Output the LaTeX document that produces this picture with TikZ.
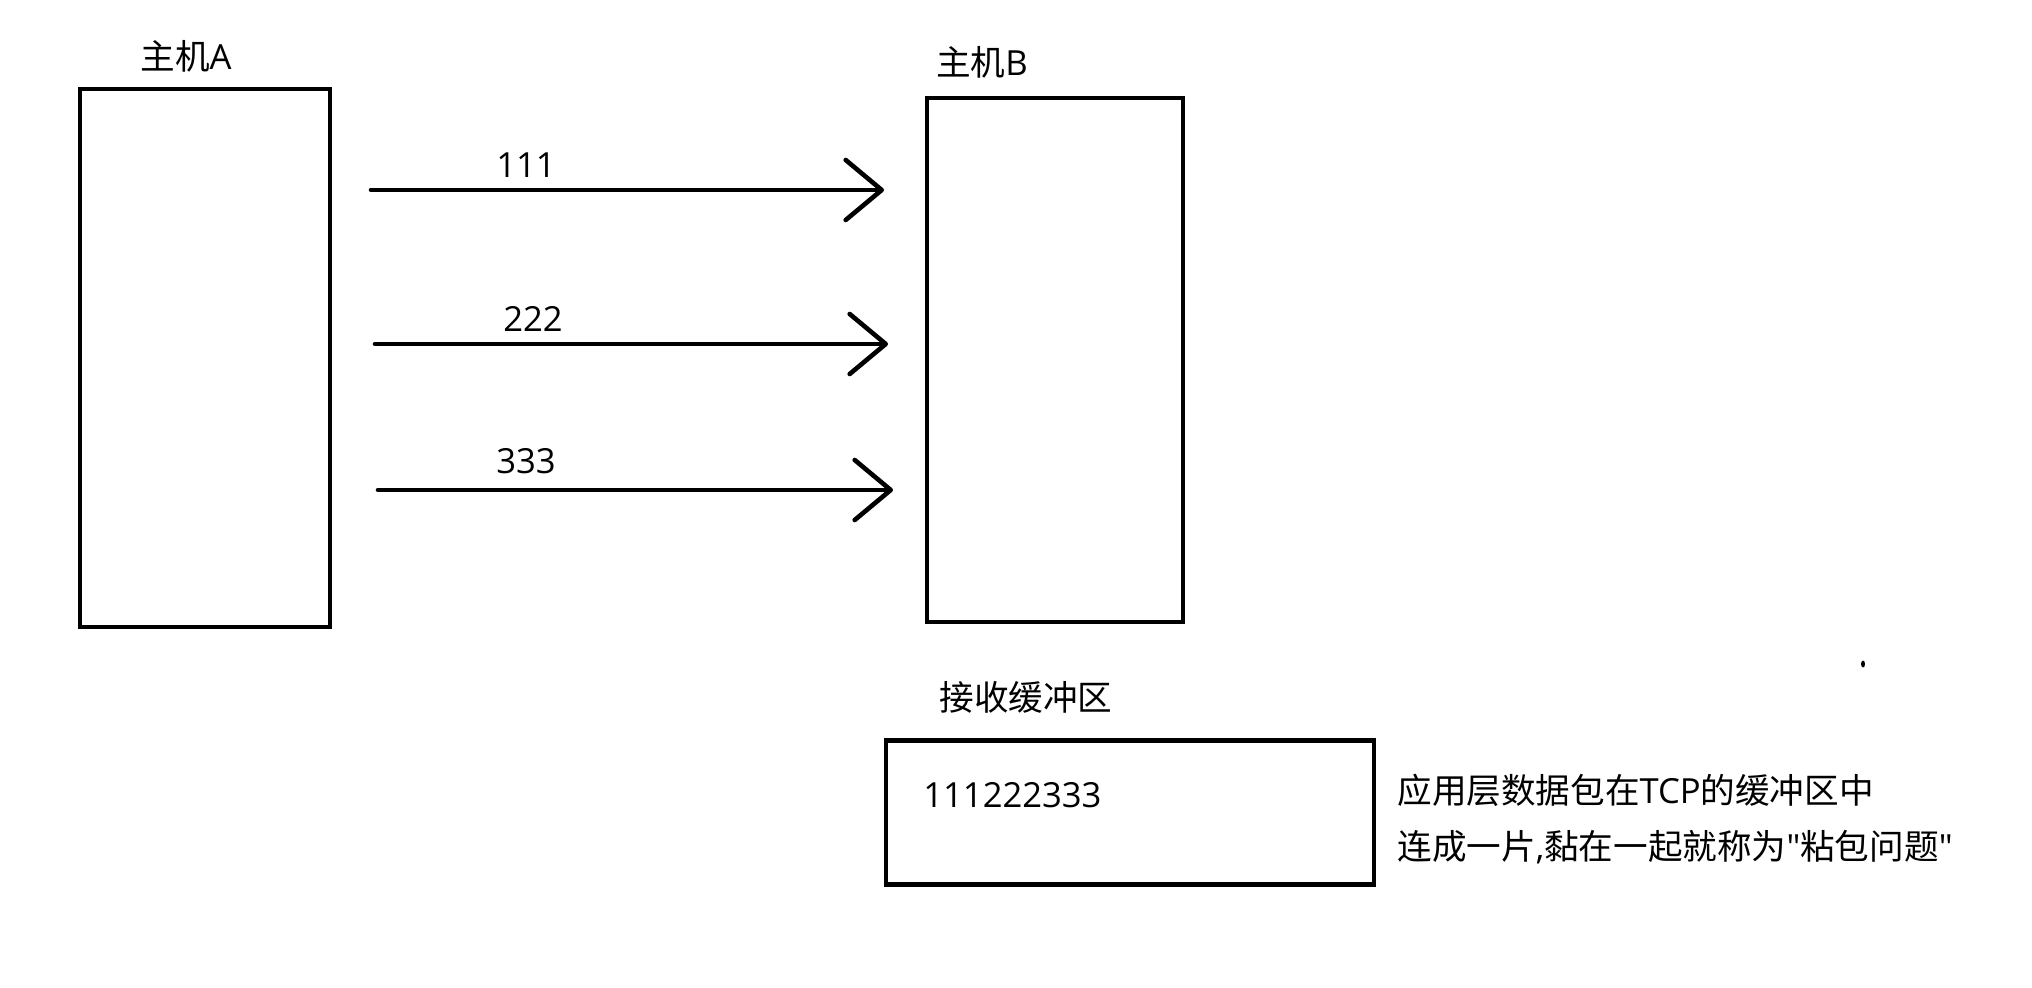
\documentclass[tikz,border=0pt]{standalone}
\usepackage{fontspec}
\setmainfont{Open Sans}[Ligatures=TeXOff]
\newfontfamily\cjk{Noto Sans CJK SC}[Ligatures=TeXOff]
\usetikzlibrary{arrows.meta}
\begin{document}
\begin{tikzpicture}[x=0.5pt,y=-0.5pt,
  host/.style={draw, line width=2.3pt, inner sep=0pt, minimum width=#1},
  lbl/.style={inner sep=0pt, font=\fontsize{17.3}{20}\selectfont},
  msg/.style={line width=2.3pt, line cap=round, -{Straight Barb[length=18pt,width=30pt,line cap=round,round]}}
]
\useasboundingbox (0,0) rectangle (2032,988);
% hosts
\node[host=125pt, minimum height=269pt] (A) at (205,358) {};
\node[host=128pt, minimum height=262pt] (B) at (1055,360) {};
\node[lbl] (tA) at (186,56) {{\cjk 主机}A};
\node[lbl] (tB) at (982,62) {{\cjk 主机}B};
% messages
\coordinate (s1) at (371,190); \coordinate (e1) at (884,190);
\coordinate (s2) at (375,344); \coordinate (e2) at (888,344);
\coordinate (s3) at (378,490); \coordinate (e3) at (893,490);
\draw[msg] (s1) -- (e1);
\draw[msg] (s2) -- (e2);
\draw[msg] (s3) -- (e3);
\node[lbl] (m1) at (526,165) {111};
\node[lbl] (m2) at (533,319) {222};
\node[lbl] (m3) at (526,461) {333};
% buffer
\node[lbl] (tbuf) at (1026,697) {\cjk 接收缓冲区};
\node[host=244pt, minimum height=72pt] (buf) at (1130,812.5) {};
\node[lbl, anchor=west] (data) at (923,795) {111222333};
\node[lbl, anchor=west] (n1) at (1397,790) {{\cjk 应用层数据包在}TCP{\cjk 的缓冲区中}};
\node[lbl, anchor=west] (n2) at (1397,847) {{\cjk 连成一片},{\cjk 黏在一起就称为}"{\cjk 粘包问题}"};
% stray dot
\fill (1863,664) ellipse (2 and 3.5);
\end{tikzpicture}
\end{document}
